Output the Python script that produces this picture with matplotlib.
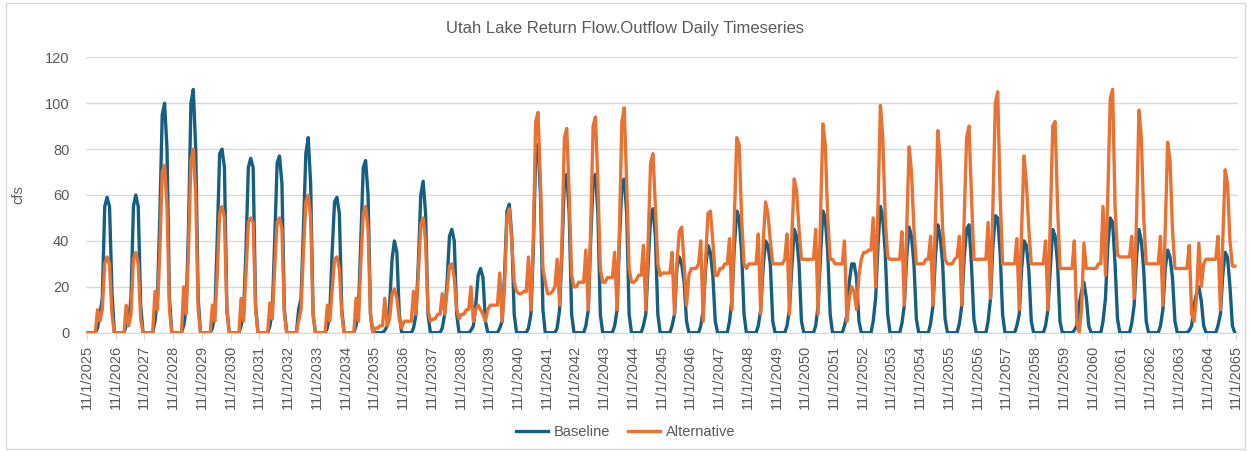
import numpy as np
import pandas as pd
import matplotlib
matplotlib.use('Agg')
import matplotlib.pyplot as plt
from matplotlib.patches import Rectangle

# Monthly flow (cfs), one row per water year, Nov..Oct
baseline_cfs = [
    [0, 0, 0, 0, 2, 8, 15, 55, 59, 55, 18, 0],      # 2025-26
    [0, 0, 0, 0, 3, 5, 15, 55, 60, 55, 12, 0],
    [0, 0, 0, 0, 5, 15, 50, 95, 100, 80, 15, 0],
    [0, 0, 0, 0, 3, 10, 45, 100, 106, 80, 15, 0],
    [0, 0, 0, 0, 2, 8, 40, 78, 80, 72, 10, 0],
    [0, 0, 0, 0, 3, 8, 35, 72, 76, 72, 12, 0],      # 2030-31
    [0, 0, 0, 0, 3, 10, 40, 74, 77, 65, 10, 0],
    [0, 0, 0, 0, 10, 15, 45, 78, 85, 65, 8, 0],
    [0, 0, 0, 0, 2, 8, 35, 57, 59, 52, 10, 0],
    [0, 0, 0, 0, 3, 10, 40, 72, 75, 60, 8, 0],
    [0, 0, 0, 0, 1, 3, 12, 32, 40, 35, 8, 0],       # 2035-36
    [0, 0, 0, 0, 2, 8, 30, 60, 66, 52, 8, 0],
    [0, 0, 0, 0, 2, 8, 22, 42, 45, 40, 8, 0],
    [0, 0, 0, 0, 1, 3, 12, 25, 28, 24, 5, 0],
    [0, 0, 0, 0, 2, 5, 25, 53, 56, 42, 8, 0],
    [0, 0, 0, 0, 2, 8, 35, 78, 82, 60, 10, 0],      # 2040-41
    [0, 0, 0, 0, 2, 10, 35, 66, 69, 52, 8, 0],
    [0, 0, 0, 0, 3, 10, 40, 66, 69, 52, 8, 0],
    [0, 0, 0, 0, 3, 10, 40, 64, 67, 52, 8, 0],
    [0, 0, 0, 0, 3, 8, 30, 50, 54, 42, 8, 0],
    [0, 0, 0, 0, 3, 8, 28, 33, 30, 22, 5, 0],       # 2045-46
    [0, 0, 0, 0, 3, 10, 28, 38, 35, 25, 5, 0],
    [0, 0, 0, 0, 5, 15, 38, 53, 50, 35, 8, 0],
    [0, 0, 0, 0, 3, 10, 28, 40, 38, 30, 5, 0],
    [0, 0, 0, 0, 3, 10, 28, 45, 42, 30, 5, 0],
    [0, 0, 0, 0, 3, 12, 33, 53, 50, 35, 8, 0],      # 2050-51
    [0, 0, 0, 0, 3, 8, 22, 30, 30, 24, 5, 0],
    [0, 0, 0, 0, 5, 15, 38, 55, 50, 35, 8, 0],
    [0, 0, 0, 0, 4, 12, 33, 46, 42, 30, 6, 0],
    [0, 0, 0, 0, 4, 12, 33, 47, 42, 30, 6, 0],
    [0, 0, 0, 0, 4, 12, 33, 45, 47, 30, 6, 0],      # 2055-56
    [0, 0, 0, 0, 5, 15, 38, 51, 50, 35, 8, 0],
    [0, 0, 0, 0, 3, 8, 28, 40, 38, 27, 5, 0],
    [0, 0, 0, 0, 3, 10, 28, 45, 42, 30, 5, 0],
    [0, 0, 0, 0, 1, 3, 12, 18, 22, 15, 3, 0],
    [0, 0, 0, 0, 5, 15, 38, 50, 48, 30, 6, 0],      # 2060-61
    [0, 0, 0, 0, 4, 12, 33, 45, 40, 27, 5, 0],
    [0, 0, 0, 0, 3, 10, 28, 36, 33, 24, 5, 0],
    [0, 0, 0, 0, 1, 3, 12, 17, 20, 14, 3, 0],
    [0, 0, 0, 0, 3, 8, 25, 35, 33, 20, 3, 0],       # 2064-65
]

alternative_cfs = [
    [0, 0, 0, 0, 10, 5, 10, 30, 33, 30, 8, 0],      # 2025-26
    [0, 0, 0, 0, 12, 3, 8, 32, 35, 30, 6, 0],
    [0, 0, 0, 0, 18, 10, 35, 70, 73, 55, 10, 0],
    [0, 0, 0, 0, 20, 8, 35, 75, 80, 60, 10, 0],
    [0, 0, 0, 0, 12, 5, 25, 52, 55, 50, 10, 0],
    [0, 0, 0, 0, 15, 5, 25, 48, 50, 48, 10, 0],     # 2030-31
    [0, 0, 0, 0, 13, 6, 28, 48, 50, 45, 8, 0],
    [0, 0, 0, 0, 5, 10, 35, 57, 60, 50, 8, 0],
    [0, 0, 0, 0, 12, 5, 18, 32, 33, 28, 8, 0],
    [0, 0, 0, 0, 15, 5, 30, 52, 55, 45, 8, 0],
    [2, 2, 3, 3, 15, 3, 6, 17, 19, 15, 6, 2],       # 2035-36
    [5, 5, 5, 5, 18, 8, 25, 47, 50, 40, 10, 5],
    [6, 6, 8, 8, 17, 8, 18, 29, 30, 24, 10, 6],
    [8, 8, 10, 10, 20, 5, 10, 12, 10, 8, 5, 10],
    [12, 12, 12, 12, 26, 5, 20, 50, 54, 40, 22, 18],
    [17, 17, 18, 18, 33, 10, 40, 92, 96, 65, 28, 22],  # 2040-41
    [17, 17, 18, 20, 32, 12, 40, 85, 89, 60, 25, 20],
    [20, 22, 22, 22, 36, 10, 45, 90, 94, 65, 28, 22],
    [22, 24, 24, 24, 35, 10, 45, 92, 98, 65, 28, 22],
    [22, 23, 25, 25, 38, 10, 40, 74, 78, 55, 30, 25],
    [26, 26, 26, 26, 35, 8, 30, 44, 46, 30, 12, 25],   # 2045-46
    [28, 28, 28, 30, 40, 5, 32, 52, 53, 40, 25, 25],
    [28, 28, 30, 30, 41, 10, 50, 85, 82, 50, 30, 28],
    [30, 30, 30, 30, 43, 8, 38, 57, 52, 40, 30, 30],
    [30, 30, 30, 32, 43, 8, 42, 67, 62, 45, 32, 32],
    [32, 32, 32, 32, 45, 8, 50, 91, 82, 50, 32, 32],   # 2050-51
    [30, 30, 30, 30, 40, 5, 15, 20, 18, 10, 25, 32],
    [35, 35, 36, 36, 50, 20, 55, 99, 85, 50, 33, 32],
    [32, 32, 32, 32, 44, 12, 45, 81, 70, 45, 30, 30],
    [30, 30, 32, 32, 42, 12, 50, 88, 75, 45, 32, 30],
    [30, 30, 32, 33, 42, 12, 50, 85, 90, 60, 32, 32],  # 2055-56
    [32, 32, 32, 32, 48, 15, 55, 100, 105, 60, 30, 30],
    [30, 30, 30, 30, 41, 10, 45, 77, 65, 45, 30, 30],
    [30, 30, 30, 30, 40, 10, 50, 90, 92, 55, 28, 28],
    [28, 28, 28, 28, 40, 5, 0, 10, 39, 28, 28, 28],
    [28, 28, 30, 30, 55, 25, 60, 102, 106, 55, 34, 33],  # 2060-61
    [33, 33, 33, 33, 42, 15, 50, 97, 85, 50, 30, 30],
    [30, 30, 30, 30, 42, 12, 45, 83, 75, 45, 28, 28],
    [28, 28, 28, 28, 38, 8, 5, 15, 39, 20, 30, 32],
    [32, 32, 32, 32, 42, 10, 40, 71, 65, 40, 29, 29],  # 2064-65
]

# mid-month dates for each value
dates = pd.date_range('2025-11-01', periods=480, freq='MS') + pd.Timedelta(days=14)
baseline = np.array(baseline_cfs).ravel()
alternative = np.array(alternative_cfs).ravel()

tick_dates = pd.date_range('2025-11-01', '2065-11-01', freq='12MS')
tick_labels = [f'{d.month}/{d.day}/{d.year}' for d in tick_dates]

plt.rcParams['font.family'] = ['Liberation Sans', 'DejaVu Sans']
grey = '#595959'

fig = plt.figure(figsize=(12.51, 4.51), dpi=100, facecolor='white')
ax = fig.add_axes([86 / 1251, 1 - 332.7 / 451, (1238 - 86) / 1251, 275.4 / 451])

ax.plot(dates, baseline, color='#156082', lw=2.4, label='Baseline', zorder=3)
ax.plot(dates, alternative, color='#E97132', lw=2.4, label='Alternative', zorder=4)

ax.set_ylim(0, 120)
ax.set_yticks(range(0, 121, 20))
ax.set_xlim(pd.Timestamp('2025-10-20'), pd.Timestamp('2065-11-25'))
ax.set_xticks(tick_dates)
ax.set_xticklabels(tick_labels, rotation=90, fontsize=10.5, color=grey)
ax.tick_params(axis='x', length=5, color='#d9d9d9', pad=4)
ax.tick_params(axis='y', length=0, labelsize=10.5, labelcolor=grey, pad=12)
ax.grid(axis='y', color='#d9d9d9', lw=1)
ax.set_axisbelow(True)
for side in ['top', 'right', 'left']:
    ax.spines[side].set_visible(False)
ax.spines['bottom'].set_color('#d9d9d9')

ax.set_ylabel('cfs', fontsize=10.5, color=grey, labelpad=14)
fig.text(0.5, 1 - 28 / 451, 'Utah Lake Return Flow.Outflow Daily Timeseries',
         ha='center', va='center', fontsize=12, color=grey)

fig.legend(loc='center', bbox_to_anchor=(0.5, 1 - 432 / 451), ncol=2, frameon=False,
           fontsize=10.5, labelcolor=grey, handlelength=2.2, columnspacing=1.2,
           handletextpad=0.4)

fig.patches.append(Rectangle((6 / 1251, 2 / 451), 1239 / 1251, 446 / 451,
                             transform=fig.transFigure, fill=False,
                             edgecolor='#d9d9d9', lw=1))

fig.savefig('out.png', dpi=100)
